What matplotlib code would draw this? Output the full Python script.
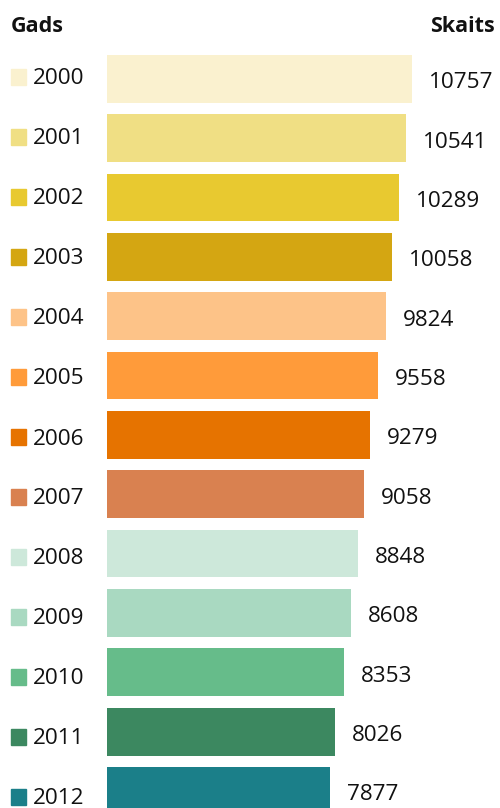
import matplotlib
matplotlib.use("Agg")
import matplotlib.pyplot as plt

# data
years = ["2000", "2001", "2002", "2003", "2004", "2005", "2006",
         "2007", "2008", "2009", "2010", "2011", "2012"]
counts = [10757, 10541, 10289, 10058, 9824, 9558, 9279,
          9058, 8848, 8608, 8353, 8026, 7877]
colors = ["#FAF1CF", "#F0DF84", "#E8C930", "#D4A612", "#FDC388", "#FF9B3A",
          "#E67300", "#D98150", "#CDE8DA", "#A9D9C1", "#66BC8A", "#3C8860", "#1B7F89"]
header_left = "Gads"
header_right = "Skaits"

plt.rcParams['font.family'] = ['Open Sans', 'DejaVu Sans']

W, H, DPI = 500, 808, 100
fig = plt.figure(figsize=(W / DPI, H / DPI), dpi=DPI)

# axes placed so that value 0 sits at x=107px, 0.02835 px per unit
px_per_unit = 0.02835
left_px = 107
ax = fig.add_axes([left_px / W, 0, 1 - left_px / W, 1])
ax.set_xlim(0, (W - left_px) / px_per_unit)

# bars: first centre 78.8px from top, pitch 59.35px
pitch = 59.35
first = 78.8
ax.set_ylim(len(years) - 1 + (H - first - pitch * (len(years) - 1)) / pitch, -first / pitch)
ypos = list(range(len(years)))
ax.barh(ypos, counts, height=47.7 / pitch, color=colors)
ax.axis("off")

# value labels
for y, v in zip(ypos, counts):
    ax.annotate(str(v), (v, y), xytext=(17 * 72 / DPI, -4 * 72 / DPI),
                textcoords="offset points", ha="left", va="center",
                fontsize=16.2, color="#111111")

# legend-like year column on the left (pitch 60px)
for i, (yr, c) in enumerate(zip(years, colors)):
    yc = 1 - (77 + 60 * i) / H
    fig.patches.append(plt.Rectangle((11 / W, yc - 8 / H), 15 / W, 16 / H,
                                     transform=fig.transFigure, color=c))
    fig.text(33 / W, 1 - (79 + 60 * i) / H, yr, ha="left", va="center",
             fontsize=16.2, color="#111111")

fig.text(11 / W, 1 - 27 / H, header_left, ha="left", va="center",
         fontsize=15.5, fontweight="bold", color="#111111")
fig.text(495 / W, 1 - 26 / H, header_right, ha="right", va="center",
         fontsize=15.5, fontweight="bold", color="#111111")

fig.savefig("out.png", dpi=DPI)
